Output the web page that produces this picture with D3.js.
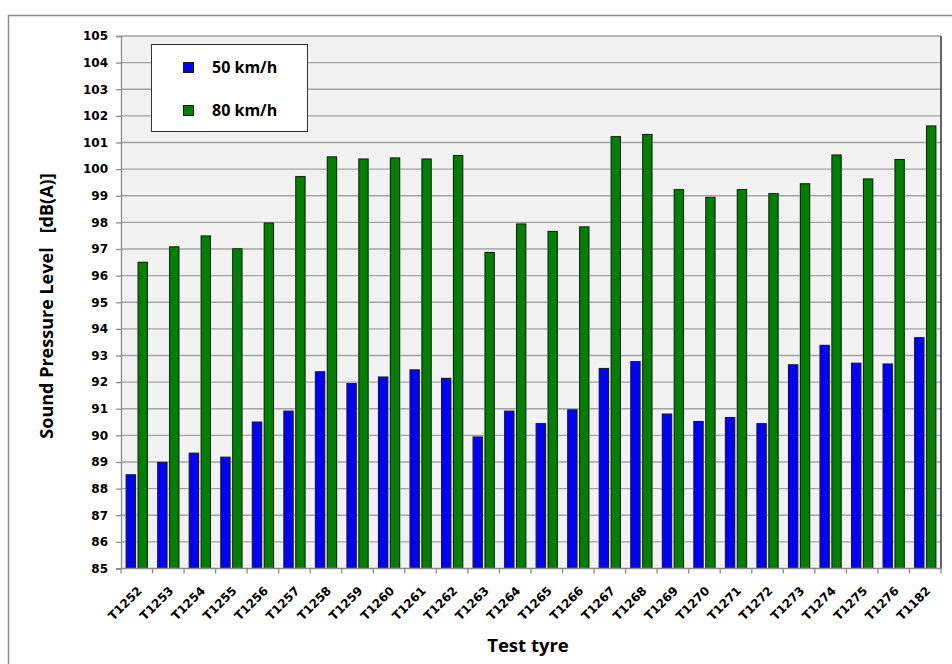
<!DOCTYPE html>
<html><head><meta charset="utf-8">
<script src="https://cdn.jsdelivr.net/npm/d3@7"></script>
<style>body{margin:0;background:#fff}svg{display:block}</style>
</head><body>
<script>
const categories = ["T1252","T1253","T1254","T1255","T1256","T1257","T1258","T1259","T1260","T1261","T1262","T1263","T1264","T1265","T1266","T1267","T1268","T1269","T1270","T1271","T1272","T1273","T1274","T1275","T1276","T1182"];
const speed50 = [88.52,88.99,89.33,89.18,90.5,90.91,92.39,91.95,92.19,92.46,92.14,89.94,90.91,90.44,90.96,92.51,92.77,90.8,90.52,90.67,90.44,92.65,93.38,92.71,92.68,93.67];
const speed80 = [96.5,97.08,97.49,97.01,97.98,99.72,100.46,100.38,100.42,100.38,100.51,96.87,97.94,97.66,97.83,101.22,101.3,99.23,98.94,99.23,99.08,99.45,100.53,99.63,100.36,101.62];
const seriesNames = ["50 km/h","80 km/h"];
const seriesColors = ["#0000ff","#008000"];
const yTicks = d3.range(85,106,1);

const W=952,H=664;
const plot={l:121,r:941,t:36,b:568.5};
const svg=d3.select("body").append("svg").attr("width",W).attr("height",H);

// outer frame
svg.append("path").attr("d",`M8.5,${H+5} L8.5,15.5 L${W+5},15.5`).attr("fill","none").attr("stroke","#8c8c8c").attr("stroke-width",1.5);

const x0=d3.scaleBand().domain(categories).range([plot.l,plot.r]).padding(0);
const x1=d3.scaleBand().domain(seriesNames).range([0,x0.bandwidth()]).paddingInner(0.22).paddingOuter(0.435);
const y=d3.scaleLinear().domain([85,105]).range([plot.b,plot.t]);

svg.append("rect").attr("x",plot.l).attr("y",plot.t).attr("width",plot.r-plot.l).attr("height",plot.b-plot.t).attr("fill","#f2f2f2");

// gridlines
svg.append("g").selectAll("line").data(yTicks.slice(1)).join("line")
  .attr("x1",plot.l).attr("x2",plot.r).attr("y1",d=>y(d)).attr("y2",d=>y(d))
  .attr("stroke","#a3a3a3").attr("stroke-width",1.4);

// bars
const data = categories.map((c,i)=>({c,vals:[speed50[i],speed80[i]]}));
const g=svg.append("g");
data.forEach(d=>{
  d.vals.forEach((v,j)=>{
    const bx=x0(d.c)+x1(seriesNames[j]), bw=x1.bandwidth();
    g.append("rect").attr("x",bx-0.8).attr("y",y(v)-0.8).attr("width",bw+1.6).attr("height",y(85)-y(v)+0.8)
      .attr("fill","#c4c4c4");
    g.append("rect").attr("x",bx).attr("y",y(v)).attr("width",bw).attr("height",y(85)-y(v))
      .attr("fill",seriesColors[j]).attr("stroke","#1a1a1a").attr("stroke-width",1);
  });
});

// right border of plot
svg.append("line").attr("x1",plot.r).attr("x2",plot.r).attr("y1",plot.t).attr("y2",plot.b).attr("stroke","#333").attr("stroke-width",1.5);

// y axis
const yAxis=d3.axisLeft(y).tickValues(yTicks).tickSize(5).tickPadding(8).tickFormat(d3.format("d"));
const ya=svg.append("g").attr("transform",`translate(${plot.l},0)`).call(yAxis);
ya.select(".domain").attr("stroke","#8c8c8c").attr("stroke-width",1.3);
ya.selectAll(".tick line").attr("stroke","#8c8c8c").attr("stroke-width",1.3);
ya.attr("font-family","DejaVu Sans").attr("font-size",12);
ya.selectAll("text").attr("font-family","DejaVu Sans").attr("font-weight","bold").attr("font-size",12).attr("fill","#000");

// x axis
const xa=svg.append("g").attr("transform",`translate(0,${plot.b})`);
xa.append("line").attr("x1",plot.l).attr("x2",plot.r).attr("stroke","#8c8c8c").attr("stroke-width",1.3);
xa.selectAll("line.tk").data(categories.concat(["end"])).join("line").attr("class","tk")
  .attr("x1",(d,i)=>plot.l+i*x0.step()).attr("x2",(d,i)=>plot.l+i*x0.step())
  .attr("y1",0).attr("y2",5).attr("stroke","#8c8c8c").attr("stroke-width",1.3);
xa.selectAll("text").data(categories).join("text")
  .attr("transform",d=>`translate(${x0(d)+x0.bandwidth()/2+3},${20}) rotate(-45)`)
  .attr("text-anchor","end").attr("dy","0.35em")
  .attr("font-family","DejaVu Sans").attr("font-weight","bold").attr("font-size",12).text(d=>d);

// axis titles
svg.append("text").attr("transform","translate(53,306) rotate(-90)").attr("text-anchor","middle")
  .attr("font-family","Open Sans").attr("font-weight","bold").attr("font-size",18).attr("xml:space","preserve")
  .text("Sound Pressure Level   [dB(A)]");
svg.append("text").attr("x",528).attr("y",652).attr("text-anchor","middle")
  .attr("font-family","Open Sans").attr("font-weight","bold").attr("font-size",18.5).text("Test tyre");

// legend
const lg=svg.append("g");
lg.append("rect").attr("x",151.5).attr("y",44.5).attr("width",156).attr("height",87).attr("fill","#fff").attr("stroke","#333").attr("stroke-width",1);
seriesNames.forEach((s,j)=>{
  const yy=[62,105][j];
  lg.append("rect").attr("x",183.5).attr("y",yy+0.5).attr("width",10).attr("height",10).attr("fill",seriesColors[j]).attr("stroke","#1a1a1a");
  lg.append("text").attr("x",212).attr("y",yy+11).attr("font-family","Open Sans").attr("font-weight","bold").attr("font-size",16).text(s);
});
</script>
</body></html>
